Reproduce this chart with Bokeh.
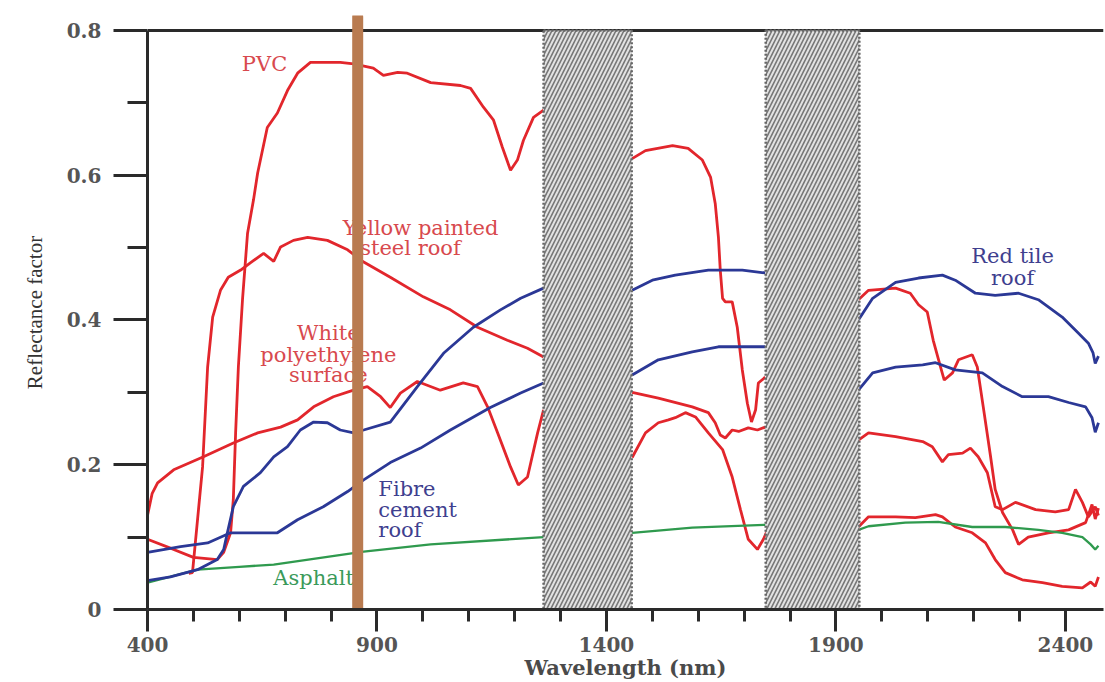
import math
from bokeh.plotting import figure
from bokeh.models import FixedTicker, Span, Range1d, CustomJSTickFormatter
from bokeh.core.properties import value
from bokeh.embed import file_html
from bokeh.resources import INLINE

nan = float("nan")

# ---------------- data (wavelength nm, reflectance) ----------------
pvc_wl = [400, 457, 500, 552, 566, 581, 587, 592, 598, 607, 618, 631, 640, 661, 683, 705, 727, 755,
          820, 849, 892, 914, 945, 966, 1017, 1082, 1104, 1132, 1154, 1173, 1191, 1206, 1219, 1241, 1263,
          nan,
          1456, 1485, 1544, 1578, 1609, 1627, 1637, 1644, 1648, 1653, 1659, 1674, 1685, 1696, 1707, 1716,
          1725, 1731, 1746,
          nan,
          1949, 1971, 2030, 2062, 2080, 2099, 2112, 2128, 2136, 2154, 2167, 2197, 2208, 2221, 2237, 2247,
          2263, 2285, 2298, 2319, 2363, 2407, 2444, 2458, 2465, 2472]
pvc_r = [0.097, 0.083, 0.072, 0.069, 0.079, 0.106, 0.152, 0.244, 0.335, 0.428, 0.52, 0.566, 0.603, 0.666,
         0.686, 0.717, 0.741, 0.756, 0.756, 0.754, 0.748, 0.738, 0.742, 0.741, 0.728, 0.724, 0.72, 0.694,
         0.676, 0.639, 0.607, 0.621, 0.648, 0.68, 0.69,
         nan,
         0.623, 0.634, 0.641, 0.637, 0.621, 0.597, 0.561, 0.514, 0.469, 0.43, 0.425, 0.425, 0.39, 0.331,
         0.285, 0.259, 0.276, 0.313, 0.321,
         nan,
         0.428, 0.441, 0.444, 0.437, 0.421, 0.411, 0.372, 0.335, 0.317, 0.327, 0.345, 0.352, 0.335, 0.28,
         0.211, 0.166, 0.134, 0.11, 0.09, 0.1, 0.106, 0.11, 0.12, 0.145, 0.125, 0.14]

steel_wl = [490, 498, 520, 531, 542, 559, 576, 603, 624, 653, 675, 690, 718, 749, 792, 836, 871, 929,
            1001, 1060, 1119, 1184, 1228, 1263,
            nan,
            1456, 1513, 1587, 1622, 1637, 1648, 1659, 1674, 1688, 1709, 1729, 1746,
            nan,
            1949, 1971, 2030, 2089, 2110, 2132, 2145, 2176, 2193, 2210, 2230, 2247, 2263, 2291, 2335, 2378,
            2407, 2422, 2437, 2450, 2465, 2472]
steel_r = [0.05, 0.051, 0.197, 0.335, 0.404, 0.441, 0.459, 0.469, 0.479, 0.492, 0.481, 0.501, 0.51, 0.514,
           0.51, 0.497, 0.48, 0.459, 0.432, 0.414, 0.39, 0.372, 0.361, 0.349,
           nan,
           0.30, 0.292, 0.28, 0.272, 0.258, 0.241, 0.237, 0.248, 0.246, 0.251, 0.248, 0.252,
           nan,
           0.234, 0.244, 0.239, 0.232, 0.225, 0.204, 0.214, 0.216, 0.223, 0.211, 0.189, 0.142, 0.138, 0.148,
           0.138, 0.135, 0.138, 0.166, 0.148, 0.128, 0.142, 0.13]

poly_wl = [400, 410, 422, 457, 522, 587, 640, 690, 727, 762, 805, 849, 879, 908, 929, 951, 988, 1038,
           1088, 1119, 1141, 1163, 1191, 1208, 1228, 1250, 1263,
           nan,
           1456, 1485, 1513, 1535, 1550, 1572, 1594, 1622, 1653, 1674, 1692, 1709, 1729, 1742, 1751,
           nan,
           1949, 1971, 2030, 2073, 2117, 2132, 2160, 2197, 2226, 2247, 2269, 2306, 2350, 2393, 2437, 2455,
           2465, 2472]
poly_r = [0.13, 0.16, 0.175, 0.193, 0.211, 0.23, 0.244, 0.252, 0.262, 0.28, 0.294, 0.303, 0.308, 0.294,
          0.279, 0.299, 0.315, 0.303, 0.313, 0.308, 0.28, 0.244, 0.197, 0.172, 0.183, 0.244, 0.276,
          nan,
          0.21, 0.244, 0.258, 0.262, 0.265, 0.272, 0.266, 0.244, 0.221, 0.183, 0.138, 0.097, 0.083, 0.097,
          0.11,
          nan,
          0.114, 0.128, 0.128, 0.127, 0.131, 0.128, 0.114, 0.106, 0.092, 0.069, 0.051, 0.041, 0.037, 0.032,
          0.03, 0.038, 0.032, 0.045]

tile_wl = [400, 450, 509, 552, 566, 574, 587, 609, 646, 675, 705, 733, 762, 792, 820, 849, 871, 929, 988,
           1045, 1110, 1169, 1213, 1263,
           nan,
           1456, 1500, 1550, 1622, 1696, 1746,
           nan,
           1949, 1980, 2030, 2080, 2132, 2160, 2204, 2247, 2298, 2341, 2393, 2428, 2450, 2460, 2465, 2472]
tile_r = [0.04, 0.045, 0.055, 0.069, 0.083, 0.106, 0.142, 0.17, 0.189, 0.211, 0.225, 0.248, 0.259, 0.258,
          0.248, 0.244, 0.248, 0.259, 0.308, 0.354, 0.39, 0.414, 0.43, 0.444,
          nan,
          0.441, 0.455, 0.462, 0.469, 0.469, 0.465,
          nan,
          0.4, 0.43, 0.452, 0.458, 0.462, 0.455, 0.437, 0.434, 0.437, 0.428, 0.404, 0.382, 0.368, 0.355,
          0.34, 0.35]

fibre_wl = [400, 472, 531, 581, 603, 683, 727, 783, 836, 871, 929, 995, 1060, 1147, 1213, 1263,
            nan,
            1456, 1513, 1587, 1644, 1746,
            nan,
            1949, 1980, 2030, 2089, 2117, 2160, 2219, 2263, 2306, 2363, 2407, 2444, 2458, 2465, 2472]
fibre_r = [0.079, 0.087, 0.092, 0.106, 0.106, 0.106, 0.124, 0.142, 0.163, 0.179, 0.203, 0.223, 0.248,
           0.279, 0.299, 0.313,
           nan,
           0.324, 0.345, 0.356, 0.363, 0.363,
           nan,
           0.303, 0.327, 0.335, 0.338, 0.341, 0.331, 0.327, 0.308, 0.294, 0.294, 0.286, 0.28, 0.265, 0.245,
           0.258]

asph_wl = [400, 509, 600, 675, 871, 1017, 1263,
           nan,
           1456, 1587, 1746,
           nan,
           1949, 1971, 2051, 2123, 2197, 2269, 2341, 2393, 2437, 2455, 2465, 2472]
asph_r = [0.037, 0.055, 0.059, 0.062, 0.08, 0.09, 0.1,
          nan,
          0.106, 0.113, 0.117,
          nan,
          0.11, 0.115, 0.12, 0.121, 0.114, 0.114, 0.11, 0.106, 0.1, 0.09, 0.083, 0.088]

# water-absorption bands (masked) and marker wavelength
band_start = [1263, 1747]
band_end = [1455, 1951]
marker_wl = [858]

x_major = [400, 900, 1400, 1900, 2400]
x_minor = [500, 600, 700, 800, 1000, 1100, 1200, 1300, 1500, 1600, 1700, 1800,
           2000, 2100, 2200, 2300]
y_major = [0, 0.2, 0.4, 0.6, 0.8]
y_minor = [0.1, 0.3, 0.5, 0.7]

label_text = ["PVC", "Yellow painted", "steel roof", "White", "polyethylene", "surface",
              "Red tile", "roof"]
label_x = [655, 995, 973, 794, 794, 794, 2285, 2285]
label_y = [0.754, 0.527, 0.499, 0.382, 0.352, 0.324, 0.488, 0.458]
label_color = ["#d8494e", "#d8494e", "#d8494e", "#d8494e", "#d8494e", "#d8494e", "#3f3f8f", "#3f3f8f"]

fibre_text = ["Fibre", "cement", "roof"]
fibre_tx = [903, 903, 903]
fibre_ty = [0.166, 0.138, 0.110]

asph_text = ["Asphalt"]
asph_tx = [674]
asph_ty = [0.044]

RED = "#e2262c"
BLUE = "#2b3896"
GREEN = "#2f9a4e"
AXC = "#2a2a2a"

p = figure(width=1104, height=682, x_range=Range1d(400, 2483), y_range=Range1d(0, 0.8207),
           output_backend="svg", toolbar_location=None,
           min_border_left=147, min_border_right=1, min_border_top=15, min_border_bottom=72)
p.outline_line_color = None
p.xgrid.visible = False
p.ygrid.visible = False

# top frame line at 0.8
p.add_layout(Span(location=0.8, dimension="width", line_color=AXC, line_width=3, level="underlay"))

# axes
xa = p.xaxis[0]
xa.ticker = FixedTicker(ticks=x_major, minor_ticks=x_minor)
xa.bounds = (400, 2483)
xa.axis_line_width = 3
xa.axis_line_color = AXC
xa.major_tick_line_width = 3
xa.major_tick_line_color = AXC
xa.major_tick_out = 22
xa.major_tick_in = 0
xa.minor_tick_line_width = 3
xa.minor_tick_line_color = AXC
xa.minor_tick_out = 12
xa.minor_tick_in = 0
xa.major_label_text_font = "DejaVu Serif"
xa.major_label_text_font_size = "20px"
xa.major_label_text_font_style = "bold"
xa.major_label_text_color = "#555555"
xa.major_label_standoff = 5
xa.axis_label = "Wavelength (nm)"
xa.axis_label_text_font = "DejaVu Serif"
xa.axis_label_text_font_size = "21px"
xa.axis_label_text_font_style = "bold"
xa.axis_label_text_color = "#4a4a4a"
xa.axis_label_standoff = 0

ya = p.yaxis[0]
ya.ticker = FixedTicker(ticks=y_major, minor_ticks=y_minor)
ya.bounds = (0, 0.8)
ya.formatter = CustomJSTickFormatter(code="return tick == 0 ? '0' : tick.toFixed(1);")
ya.axis_line_width = 3
ya.axis_line_color = AXC
ya.major_tick_line_width = 3
ya.major_tick_line_color = AXC
ya.major_tick_out = 34
ya.major_tick_in = 0
ya.minor_tick_line_width = 3
ya.minor_tick_line_color = AXC
ya.minor_tick_out = 20
ya.minor_tick_in = 0
ya.major_label_text_font = "DejaVu Serif"
ya.major_label_text_font_size = "20px"
ya.major_label_text_font_style = "bold"
ya.major_label_text_color = "#555555"
ya.major_label_standoff = 12
ya.axis_label = "Reflectance factor"
ya.axis_label_text_font = "Liberation Serif"
ya.axis_label_text_font_size = "21px"
ya.axis_label_text_font_style = "normal"
ya.axis_label_text_color = "#333333"
ya.axis_label_standoff = 17

# curves
p.line(pvc_wl, pvc_r, line_color=RED, line_width=2.8)
p.line(steel_wl, steel_r, line_color=RED, line_width=2.8)
p.line(poly_wl, poly_r, line_color=RED, line_width=2.8)
p.line(asph_wl, asph_r, line_color=GREEN, line_width=2.3)
p.line(fibre_wl, fibre_r, line_color=BLUE, line_width=2.8)
p.line(tile_wl, tile_r, line_color=BLUE, line_width=2.8)

# masked absorption bands
p.quad(left=band_start, right=band_end, bottom=0, top=0.8,
       fill_color="#e2e2e2", hatch_pattern="/", hatch_color="#767676", hatch_scale=8,
       hatch_weight=1.6, line_color="#666666", line_width=2.5, line_dash="2 2")

# labels
p.text(x=label_x, y=label_y, text=label_text, text_color=label_color,
       text_font=value("DejaVu Serif"), text_font_size=value("21px"),
       text_align="center", text_baseline="middle")
p.text(x=fibre_tx, y=fibre_ty, text=fibre_text, text_color="#3f3f8f",
       text_font=value("DejaVu Serif"), text_font_size=value("21px"),
       text_align="left", text_baseline="middle")
p.text(x=asph_tx, y=asph_ty, text=asph_text, text_color="#3a9a5a",
       text_font=value("DejaVu Serif"), text_font_size=value("21px"),
       text_align="left", text_baseline="middle")

# marker line
p.segment(x0=marker_wl, y0=[0], x1=marker_wl, y1=[0.819], line_color="#b97b50",
          line_width=11, line_cap="round")

open("out.html", "w").write(file_html(p, INLINE))
